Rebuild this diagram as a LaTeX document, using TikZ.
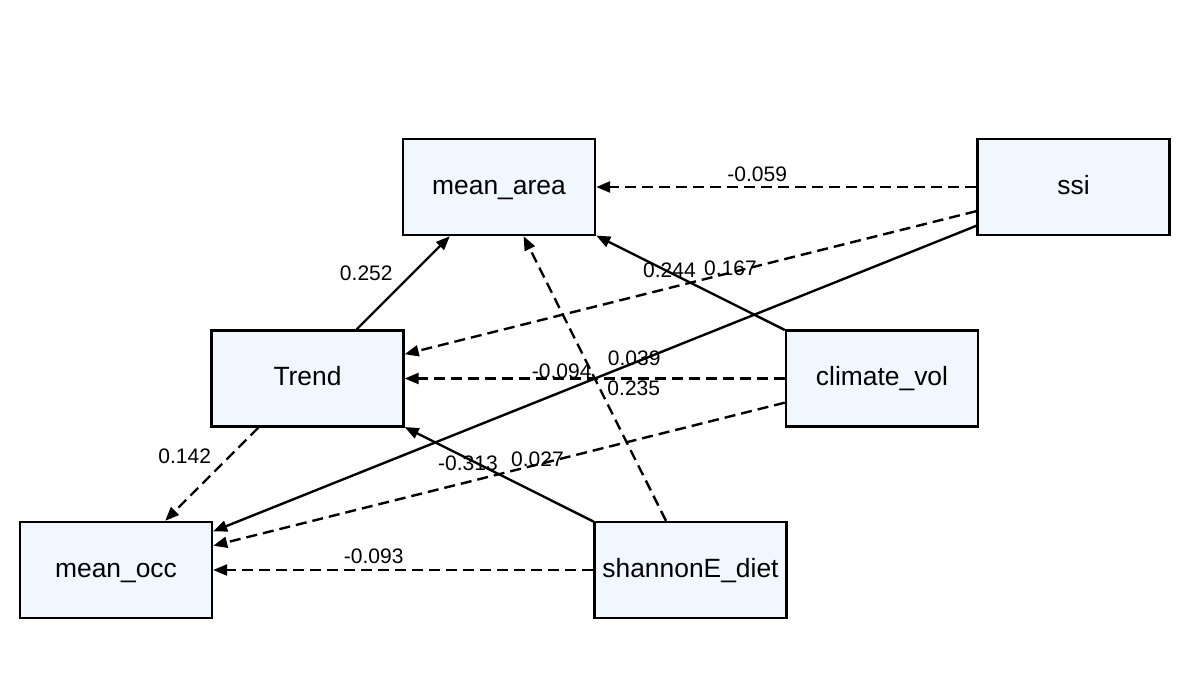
\documentclass[tikz,border=0pt]{standalone}
\usepackage{fontspec}
\setmainfont{Liberation Sans}
\usepackage{tikz}
\usetikzlibrary{shapes.geometric, arrows.meta}
\usetikzlibrary{positioning}
\definecolor{boxfill}{HTML}{F0F7FF}
\tikzstyle{var} = [rectangle, minimum width=96pt, minimum height=48pt, text centered, text height=9.5pt, text depth=2.3pt, draw=black, line width=1.2pt, fill=boxfill, font=\fontsize{13.2}{15}\selectfont]
\tikzstyle{arrow} = [line width=1.2pt, -{Triangle[length=7pt,width=5.5pt]}]
\tikzstyle{dasharrow} = [arrow, dash pattern=on 5.5pt off 3pt]
\tikzstyle{coef} = [font=\fontsize{10.5}{12}\selectfont, inner sep=0pt]

\begin{document}
\begin{tikzpicture}[node distance=95.75pt]

\useasboundingbox (-249.5pt,-243pt) rectangle (342pt,93.5pt);

\node (area) [var] {mean\_area};

\node (ssi) [var, right of=area, xshift=191.5pt] {ssi};

\node (trend) [var, below of=area, xshift=-95.75pt] {Trend};

\node (clim) [var, right of=trend, xshift=191.5pt] {climate\_vol};

\node (occ) [var, below of=trend, xshift=-95.75pt] {mean\_occ};

\node (diet) [var, right of=occ, xshift=191.5pt] {shannonE\_diet};


\draw [dasharrow] (ssi) -- node[coef, xshift=-14.5pt, yshift=6.5pt] {-0.059} (area);
\draw [dasharrow] (ssi) -- node[coef, xshift=20pt, yshift=7.4pt] {0.167} (trend);
\draw [arrow] (ssi) -- node[coef, xshift=19.75pt, yshift=10.35pt] {0.039} (occ);
\draw [arrow] (clim) -- node[coef, xshift=-10.5pt, yshift=6pt] {0.244} (area);
\draw [dasharrow] (clim) -- node[coef, xshift=-16.5pt, yshift=3.75pt] {-0.094} (trend);
\draw [dasharrow] (clim) -- node[coef, xshift=19.25pt, yshift=7.5pt] {0.027} (occ);
\draw [dasharrow] (diet) -- node[coef, xshift=19.5pt, yshift=-4.75pt] {0.235} (area);
\draw [arrow] (diet) -- node[coef, xshift=-15.5pt, yshift=5.5pt] {-0.313} (trend);
\draw [dasharrow] (diet) -- node[coef, xshift=-14.75pt, yshift=7pt] {-0.093} (occ);
\draw [arrow] (trend) -- node[coef, xshift=-18.5pt, yshift=4.5pt] {0.252} (area);
\draw [dasharrow] (trend) -- node[coef, xshift=-13.5pt, yshift=9pt] {0.142} (occ);


\end{tikzpicture}
\end{document}
